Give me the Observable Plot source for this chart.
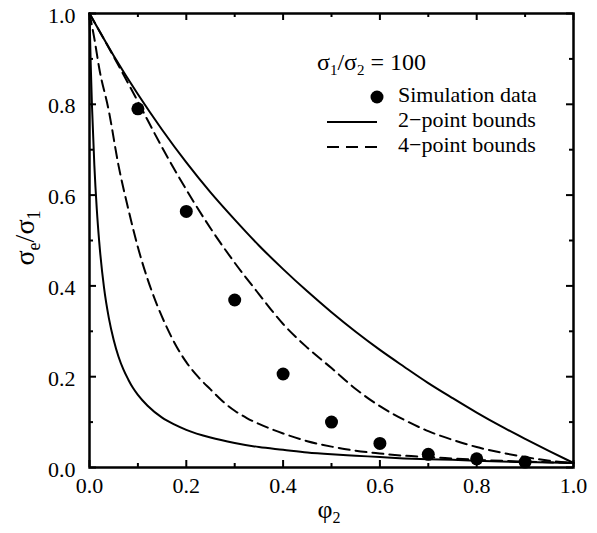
<!DOCTYPE html>
<html><head><meta charset="utf-8">
<script src="https://cdn.jsdelivr.net/npm/d3@7"></script>
<script src="https://cdn.jsdelivr.net/npm/@observablehq/plot@0.6"></script>
<style>
body{margin:0;background:#fff}
#chart{width:597px;height:533px}
#chart svg, #chart svg text, #chart svg tspan{font-family:"Liberation Serif","Times New Roman","DejaVu Serif",serif !important}
</style>
</head><body><div id="chart"></div>
<script>
// ---- data ----
const xTicksMajor = [0, 0.2, 0.4, 0.6, 0.8, 1.0];
const xTicksMinor = [0.1, 0.3, 0.5, 0.7, 0.9];
const yTicksMajor = [0, 0.2, 0.4, 0.6, 0.8, 1.0];
const yTicksMinor = [0.1, 0.3, 0.5, 0.7, 0.9];

const simPhi   = [0.1, 0.2, 0.3, 0.4, 0.5, 0.6, 0.7, 0.8, 0.9];
const simSigma = [0.790, 0.564, 0.369, 0.206, 0.100, 0.053, 0.029, 0.019, 0.012];

const twoUpperPhi = [0, 0.05, 0.1, 0.15, 0.2, 0.25, 0.3, 0.35, 0.4, 0.45, 0.5, 0.55, 0.6, 0.65, 0.7, 0.75, 0.8, 0.85, 0.9, 0.95, 1.0];
const twoUpper    = [1.0, 0.907, 0.822, 0.744, 0.672, 0.606, 0.546, 0.489, 0.437, 0.388, 0.342, 0.299, 0.259, 0.222, 0.186, 0.153, 0.121, 0.091, 0.063, 0.036, 0.010];

const twoLowerPhi = [0, 0.0025, 0.005, 0.01, 0.015, 0.02, 0.03, 0.04, 0.05, 0.06, 0.07, 0.08, 0.09, 0.1, 0.12, 0.15, 0.175, 0.2, 0.25, 0.3, 0.35, 0.4, 0.45, 0.5, 0.55, 0.6, 0.65, 0.7, 0.75, 0.8, 0.85, 0.9, 0.95, 1.0];
const twoLower    = [1.0, 0.889, 0.800, 0.666, 0.570, 0.498, 0.396, 0.329, 0.281, 0.244, 0.216, 0.194, 0.175, 0.160, 0.136, 0.110, 0.095, 0.083, 0.066, 0.054, 0.045, 0.039, 0.033, 0.029, 0.026, 0.023, 0.020, 0.018, 0.017, 0.015, 0.013, 0.012, 0.011, 0.010];

const fourUpperPhi = [0, 0.05, 0.1, 0.15, 0.2, 0.25, 0.3, 0.35, 0.4, 0.45, 0.5, 0.55, 0.6, 0.65, 0.7, 0.75, 0.8, 0.85, 0.9, 0.95, 1.0];
const fourUpper    = [1.0, 0.905, 0.806, 0.705, 0.612, 0.527, 0.451, 0.382, 0.316, 0.264, 0.219, 0.173, 0.135, 0.105, 0.080, 0.061, 0.045, 0.033, 0.023, 0.015, 0.010];

const fourLowerPhi = [0, 0.01, 0.02, 0.04, 0.06, 0.08, 0.1, 0.12, 0.14, 0.16, 0.18, 0.2, 0.225, 0.25, 0.275, 0.3, 0.325, 0.35, 0.375, 0.4, 0.45, 0.5, 0.55, 0.6, 0.65, 0.7, 0.8, 0.9, 1.0];
const fourLower    = [1.0, 0.945, 0.880, 0.785, 0.665, 0.570, 0.485, 0.415, 0.357, 0.308, 0.266, 0.232, 0.199, 0.172, 0.146, 0.125, 0.109, 0.096, 0.085, 0.075, 0.058, 0.046, 0.037, 0.031, 0.026, 0.023, 0.017, 0.013, 0.010];

const legendTitle = ["σ", "1", "/σ", "2", " = 100"];
const legendLabels = ["Simulation data", "2\u2212point bounds", "4\u2212point bounds"];

// ---- build tables ----
const zip = (xs, ys) => xs.map((x, i) => ({x, y: ys[i]}));
const sim = zip(simPhi, simSigma);
const u2 = zip(twoUpperPhi, twoUpper), l2 = zip(twoLowerPhi, twoLower);
const u4 = zip(fourUpperPhi, fourUpper), l4 = zip(fourLowerPhi, fourLower);

const W = 597, H = 533, mL = 89, mR = 24, mT = 13, mB = 66;
const pw = W - mL - mR, ph = H - mT - mB;
const serif = "'Liberation Serif','Times New Roman','DejaVu Serif',serif";
const fmt = d3.format(".1f");
const major = 7, minor = 4, tw = 2;
const dash = "11,6";

const chart = Plot.plot({
  width: W, height: H,
  marginLeft: mL, marginRight: mR, marginTop: mT, marginBottom: mB,
  style: {fontFamily: serif, background: "white", color: "black", overflow: "visible"},
  x: {domain: [0, 1]},
  y: {domain: [0, 1]},
  marks: [
    Plot.axisX(xTicksMajor, {tickSize: 0, tickPadding: 10, fontSize: 22, tickFormat: fmt, label: null}),
    Plot.axisY(yTicksMajor, {tickSize: 0, tickPadding: 14, fontSize: 22, tickFormat: fmt, label: null, dy: 2}),
    // inward ticks on all four sides
    Plot.ruleX(xTicksMajor, {insetTop: ph - major, strokeWidth: tw}),
    Plot.ruleX(xTicksMinor, {insetTop: ph - minor, strokeWidth: tw}),
    Plot.ruleX(xTicksMajor, {insetBottom: ph - major, strokeWidth: tw}),
    Plot.ruleX(xTicksMinor, {insetBottom: ph - minor, strokeWidth: tw}),
    Plot.ruleY(yTicksMajor, {insetRight: pw - major, strokeWidth: tw}),
    Plot.ruleY(yTicksMinor, {insetRight: pw - minor, strokeWidth: tw}),
    Plot.ruleY(yTicksMajor, {insetLeft: pw - major, strokeWidth: tw}),
    Plot.ruleY(yTicksMinor, {insetLeft: pw - minor, strokeWidth: tw}),
    // bounds
    Plot.line(u2, {x: "x", y: "y", stroke: "black", strokeWidth: 2, curve: "monotone-x"}),
    Plot.line(l2, {x: "x", y: "y", stroke: "black", strokeWidth: 2, curve: "monotone-x"}),
    Plot.line(u4, {x: "x", y: "y", stroke: "black", strokeWidth: 2, strokeDasharray: dash, curve: "monotone-x"}),
    Plot.line(l4, {x: "x", y: "y", stroke: "black", strokeWidth: 2, strokeDasharray: dash, curve: "monotone-x"}),
    Plot.dot(sim, {x: "x", y: "y", r: 6.5, fill: "black", stroke: null}),
    Plot.frame({stroke: "black", strokeWidth: 2.5})
  ]
});
document.getElementById("chart").appendChild(chart);

// ---- axis labels and legend (text with subscripts) ----
const svg = d3.select(chart);
const g = svg.append("g").attr("font-family", serif).attr("fill", "black").attr("text-anchor", "start");

// y label
const yl = g.append("text").attr("transform", "translate(34,238) rotate(-90)")
  .attr("text-anchor", "middle").attr("font-size", 28);
yl.append("tspan").text("σ");
yl.append("tspan").attr("font-size", 18).attr("dy", 6).text("e");
yl.append("tspan").attr("dy", -6).text("/σ");
yl.append("tspan").attr("font-size", 18).attr("dy", 6).text("1");

// x label
const xl = g.append("text").attr("x", 329).attr("y", 518)
  .attr("text-anchor", "middle").attr("font-size", 26);
xl.append("tspan").text("φ");
xl.append("tspan").attr("font-size", 16).attr("dy", 5).text("2");

// legend title
const lt = g.append("text").attr("x", 317).attr("y", 70).attr("font-size", 24).attr("text-anchor", "start");
legendTitle.forEach((s, i) => {
  const t = lt.append("tspan").text(s);
  if (i % 2 === 1) t.attr("font-size", 15).attr("dy", 5);
  else if (i > 0) t.attr("dy", -5);
});

// legend entries
const lx0 = 327, lx1 = 377, tx = 398;
const rows = [97, 122, 147];
g.append("circle").attr("cx", lx1).attr("cy", rows[0]).attr("r", 6.5).attr("fill", "black");
g.append("line").attr("x1", lx0).attr("x2", lx1).attr("y1", rows[1]).attr("y2", rows[1])
  .attr("stroke", "black").attr("stroke-width", 2);
g.append("line").attr("x1", lx0).attr("x2", lx1).attr("y1", rows[2]).attr("y2", rows[2])
  .attr("stroke", "black").attr("stroke-width", 2).attr("stroke-dasharray", "12,7");
legendLabels.forEach((s, i) => {
  g.append("text").attr("x", tx).attr("y", rows[i] + 5).attr("font-size", 22)
    .attr("text-anchor", "start").text(s);
});
</script>
</body></html>
